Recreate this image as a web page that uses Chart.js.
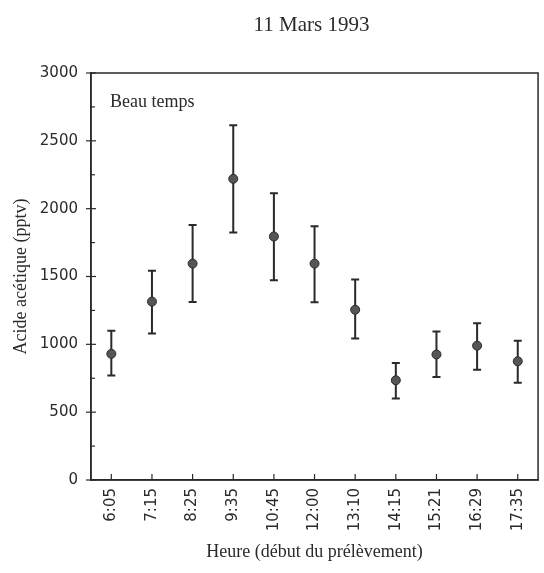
<!DOCTYPE html>
<html>
<head>
<meta charset="utf-8">
<script src="https://cdn.jsdelivr.net/npm/chart.js@4"></script>
<style>
  html, body { margin: 0; padding: 0; background: #fff; }
  #wrap { width: 544px; height: 573px; }
</style>
</head>
<body>
<div id="wrap"><canvas id="myChart" width="544" height="573"></canvas></div>
<script>
// Heures de début de prélèvement
const heures = ["6:05", "7:15", "8:25", "9:35", "10:45", "12:00", "13:10", "14:15", "15:21", "16:29", "17:35"];
// Acide acétique (pptv), valeur moyenne
const acide = [930, 1315, 1595, 2220, 1795, 1595, 1255, 735, 925, 990, 875];
// bornes des barres d'erreur
const acideMin = [770, 1080, 1312, 1825, 1473, 1310, 1043, 600, 760, 813, 717];
const acideMax = [1100, 1543, 1880, 2614, 2114, 1870, 1477, 862, 1094, 1155, 1027];

const ink = "#2a2a2a";

// cadre, graduations, barres d'erreur, titre et "Beau temps"
const decor = {
  id: "decor",
  beforeDatasetsDraw(chart) {
    const c = chart.ctx;
    const a = chart.chartArea;
    const x = chart.scales.x;
    const y = chart.scales.y;
    c.save();
    c.strokeStyle = ink;
    c.lineWidth = 1.5;
    c.strokeRect(a.left, a.top, a.right - a.left, a.bottom - a.top);

    // graduations y : majeures traversent l'axe, mineures vers l'intérieur
    c.lineWidth = 1.2;
    for (let v = 0; v <= 3000; v += 250) {
      const py = y.getPixelForValue(v);
      c.beginPath();
      if (v % 500 === 0) { c.moveTo(a.left - 5, py); c.lineTo(a.left + 5, py); }
      else { c.moveTo(a.left, py); c.lineTo(a.left + 4, py); }
      c.stroke();
    }
    // graduations x vers l'intérieur
    heures.forEach((h, i) => {
      const px = x.getPixelForTick(i);
      c.beginPath();
      c.moveTo(px, a.bottom);
      c.lineTo(px, a.bottom - 6);
      c.stroke();
    });

    // barres d'erreur
    c.lineWidth = 2;
    acide.forEach((v, i) => {
      const px = x.getPixelForValue(i);
      const top = y.getPixelForValue(acideMax[i]);
      const bot = y.getPixelForValue(acideMin[i]);
      c.beginPath();
      c.moveTo(px, top); c.lineTo(px, bot);
      c.moveTo(px - 4, top); c.lineTo(px + 4, top);
      c.moveTo(px - 4, bot); c.lineTo(px + 4, bot);
      c.stroke();
    });

    c.fillStyle = ink;
    c.textBaseline = "alphabetic";
    c.font = "18px 'Liberation Serif'";
    c.textAlign = "left";
    c.fillText("Beau temps", a.left + 19, a.top + 34);

    c.font = "21px 'Liberation Serif'";
    c.textAlign = "center";
    c.fillText("11 Mars 1993", (a.left + a.right) / 2 - 3, 31);
    c.restore();
  }
};

const ctx = document.getElementById("myChart").getContext("2d");
const myChart = new Chart(ctx, {
  type: "line",
  data: {
    labels: heures,
    datasets: [{
      label: "Acide acétique",
      data: acide,
      showLine: false,
      pointRadius: 4.5,
      pointBackgroundColor: "#555",
      pointBorderColor: "#2a2a2a",
      pointBorderWidth: 1
    }]
  },
  options: {
    responsive: false,
    animation: false,
    layout: { padding: { left: 0, right: 3, top: 73, bottom: 0 } },
    plugins: {
      legend: { display: false },
      tooltip: { enabled: false },
      title: { display: false }
    },
    scales: {
      x: {
        offset: true,
        grid: { display: true, drawOnChartArea: false, drawTicks: false },
        border: { color: ink, width: 1.5 },
        ticks: {
          color: ink,
          font: { family: "DejaVu Sans", size: 15 },
          minRotation: 90,
          maxRotation: 90,
          padding: 8,
          autoSkip: false
        },
        title: {
          display: true,
          text: "Heure (début du prélèvement)",
          color: ink,
          font: { family: "Liberation Serif", size: 18 },
          padding: { top: 4, bottom: 10 }
        },
        afterFit(scale) { scale.height = 93; }
      },
      y: {
        min: 0,
        max: 3000,
        grid: { display: true, drawOnChartArea: false, drawTicks: false },
        border: { color: ink, width: 1.5 },
        ticks: {
          stepSize: 500,
          color: ink,
          font: { family: "DejaVu Sans", size: 15 },
          padding: 13,
          callback: (v) => String(v)
        },
        title: {
          display: true,
          text: "Acide acétique (pptv)",
          color: ink,
          font: { family: "Liberation Serif", size: 18 },
          padding: { top: 10, bottom: 4 }
        },
        afterFit(scale) { scale.width = 91; }
      }
    }
  },
  plugins: [decor]
});
</script>
</body>
</html>
